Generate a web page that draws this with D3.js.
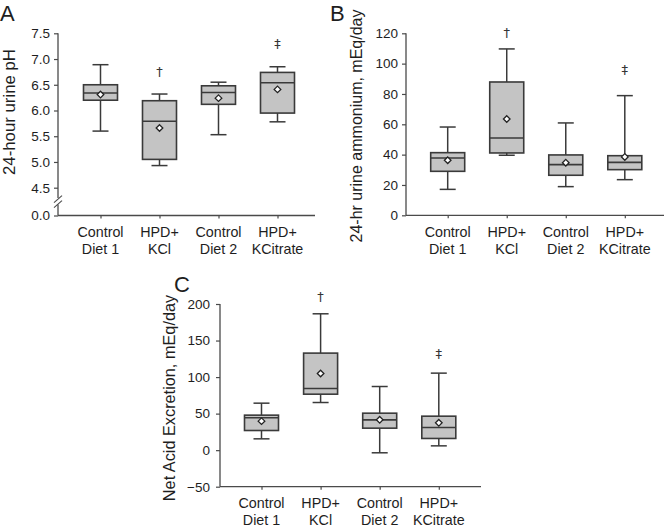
<!DOCTYPE html>
<html>
<head>
<meta charset="utf-8">
<script src="https://cdn.jsdelivr.net/npm/d3@7/dist/d3.min.js"></script>
<style>
html,body{margin:0;padding:0;background:#fff;}
svg{display:block;font-family:"Liberation Sans",Arial,sans-serif;}
</style>
</head>
<body>
<svg id="chart" width="667" height="527"></svg>
<script>
// ---- data ----
const categories = [["Control","Diet 1"],["HPD+","KCl"],["Control","Diet 2"],["HPD+","KCitrate"]];
const catKeys = ["CD1","KCl","CD2","KCit"];

// Panel A: 24-hour urine pH
const phLow    = [5.60, 4.93, 5.53, 5.78];
const phQ1     = [6.20, 5.05, 6.12, 5.95];
const phMedian = [6.34, 5.79, 6.35, 6.54];
const phQ3     = [6.50, 6.19, 6.48, 6.74];
const phHigh   = [6.89, 6.32, 6.55, 6.85];
const phMean   = [6.31, 5.66, 6.24, 6.41];
const phSig    = ["", "†", "", "‡"];
const phSigAt  = [null, 6.75, null, 7.30];
const phTicks  = [0.0, 4.5, 5.0, 5.5, 6.0, 6.5, 7.0, 7.5];

// Panel B: 24-hr urine ammonium
const nhLow    = [17.1, 39.6, 18.9, 23.5];
const nhQ1     = [29.0, 41.1, 26.4, 30.1];
const nhMedian = [37.8, 51.0, 33.4, 34.9];
const nhQ3     = [41.3, 87.9, 39.8, 39.3];
const nhHigh   = [58.2, 109.7, 60.9, 78.9];
const nhMean   = [36.3, 63.5, 34.7, 38.5];
const nhSig    = ["", "†", "", "‡"];
const nhSigAt  = [null, 120.4, null, 96];
const nhTicks  = [0, 20, 40, 60, 80, 100, 120];

// Panel C: Net acid excretion
const naeLow    = [15.5, 65.2, -3.6, 5.9];
const naeQ1     = [26.9, 76.6, 30.1, 16.0];
const naeMedian = [44.3, 84.4, 41.5, 31.0];
const naeQ3     = [47.9, 132.8, 50.6, 46.5];
const naeHigh   = [64.3, 186.6, 87.1, 105.4];
const naeMean   = [39.7, 104.9, 41.5, 37.4];
const naeSig    = ["", "†", "", "‡"];
const naeSigAt  = [null, 210, null, 132.8];
const naeTicks  = [-50, 0, 50, 100, 150, 200];

// ---- layout ----
const svg = d3.select("#chart");
const AXIS = "#4a4a4a", BOX = "#3a3a3a", FILL = "#c4c4c4", TXT = "#1e1e1e";

function rows(low,q1,med,q3,high,mean,sig,sigAt){
  return catKeys.map((k,i)=>({key:k,label:categories[i],low:low[i],q1:q1[i],med:med[i],q3:q3[i],high:high[i],mean:mean[i],sig:sig[i],sigAt:sigAt[i]}));
}

function panel(cfg){
  const g = svg.append("g");
  const y = cfg.y;
  const x = d3.scalePoint().domain(catKeys).range(cfg.xRange);
  const [ax0, ax1] = cfg.axisX;
  const yBottom = y(cfg.yDomainMin);
  const yTop = y(cfg.yDomainMax);

  // y axis
  const yAxis = d3.axisLeft(y).tickValues(cfg.ticks).tickSize(4).tickPadding(cfg.pad || 4)
    .tickFormat(cfg.fmt);
  const ya = g.append("g").attr("transform",`translate(${ax0},0)`).call(yAxis);
  ya.select(".domain").remove();
  ya.selectAll(".tick line").attr("stroke",AXIS).attr("stroke-width",1.2);
  ya.selectAll(".tick text").attr("fill",TXT).style("font-size","13.5px");

  // y axis line (with optional break)
  if(cfg.breakAt){
    const by = (y(cfg.breakAt[0]) + y(cfg.breakAt[1]))/2;
    g.append("line").attr("x1",ax0).attr("x2",ax0).attr("y1",yTop).attr("y2",by-3.5).attr("stroke",AXIS).attr("stroke-width",1.3);
    g.append("line").attr("x1",ax0).attr("x2",ax0).attr("y1",by+3).attr("y2",yBottom).attr("stroke",AXIS).attr("stroke-width",1.3);
    [-2.5,2.5].forEach(o=>{
      g.append("line").attr("x1",ax0-4).attr("x2",ax0+4).attr("y1",by+o+3.5).attr("y2",by+o-3.5)
        .attr("stroke",AXIS).attr("stroke-width",1.1);
    });
  } else {
    g.append("line").attr("x1",ax0).attr("x2",ax0).attr("y1",yTop).attr("y2",yBottom).attr("stroke",AXIS).attr("stroke-width",1.3);
  }

  // x axis
  g.append("line").attr("x1",ax0).attr("x2",ax1).attr("y1",yBottom).attr("y2",yBottom).attr("stroke",AXIS).attr("stroke-width",1.3);
  const xa = g.append("g").attr("transform",`translate(0,${yBottom})`)
    .call(d3.axisBottom(x).tickSize(3).tickFormat(""));
  xa.select(".domain").remove();
  xa.selectAll(".tick line").attr("stroke",AXIS).attr("stroke-width",1.2);

  // category labels
  cfg.data.forEach(d=>{
    const t = g.append("text").attr("text-anchor","middle").attr("fill",TXT).style("font-size","14.3px");
    t.append("tspan").attr("x",x(d.key)).attr("y",yBottom+21.5).text(d.label[0]);
    t.append("tspan").attr("x",x(d.key)).attr("y",yBottom+38.3).text(d.label[1]);
  });

  // boxes
  const bw = 34, cw = 8;
  const b = g.selectAll(".bx").data(cfg.data).join("g").attr("class","bx");
  b.append("line").attr("x1",d=>x(d.key)).attr("x2",d=>x(d.key)).attr("y1",d=>y(d.high)).attr("y2",d=>y(d.q3)).attr("stroke",BOX).attr("stroke-width",1.5);
  b.append("line").attr("x1",d=>x(d.key)).attr("x2",d=>x(d.key)).attr("y1",d=>y(d.q1)).attr("y2",d=>y(d.low)).attr("stroke",BOX).attr("stroke-width",1.5);
  b.append("line").attr("x1",d=>x(d.key)-cw).attr("x2",d=>x(d.key)+cw).attr("y1",d=>y(d.high)).attr("y2",d=>y(d.high)).attr("stroke",BOX).attr("stroke-width",1.5);
  b.append("line").attr("x1",d=>x(d.key)-cw).attr("x2",d=>x(d.key)+cw).attr("y1",d=>y(d.low)).attr("y2",d=>y(d.low)).attr("stroke",BOX).attr("stroke-width",1.5);
  b.append("rect").attr("x",d=>x(d.key)-bw/2).attr("width",bw)
    .attr("y",d=>y(d.q3)).attr("height",d=>y(d.q1)-y(d.q3))
    .attr("fill",FILL).attr("stroke",BOX).attr("stroke-width",1.6);
  b.append("line").attr("x1",d=>x(d.key)-bw/2).attr("x2",d=>x(d.key)+bw/2).attr("y1",d=>y(d.med)).attr("y2",d=>y(d.med)).attr("stroke",BOX).attr("stroke-width",1.6);
  b.append("path").attr("d",d=>{const cx=x(d.key), cy=y(d.mean), r=3.3; return `M${cx},${cy-r}L${cx+r},${cy}L${cx},${cy+r}L${cx-r},${cy}Z`;})
    .attr("fill","#fff").attr("stroke","#222").attr("stroke-width",1.3);
  b.filter(d=>d.sig).append("text").attr("x",d=>x(d.key)).attr("y",d=>y(d.sigAt)).attr("dy","0.35em")
    .attr("text-anchor","middle").attr("fill","#333").style("font-size","13px")
    .style("font-family","'DejaVu Sans',sans-serif").style("opacity",0.99).text(d=>d.sig);

  // y title
  g.append("text").attr("transform",`translate(${cfg.titleX},${cfg.titleY}) rotate(-90)`)
    .attr("text-anchor","middle").attr("fill",TXT).style("font-size",cfg.titleSize).text(cfg.title);
  // panel letter
  g.append("text").attr("x",cfg.letterXY[0]).attr("y",cfg.letterXY[1]).attr("fill",TXT).style("font-size","22px").text(cfg.letter);
}

// Panel A (broken axis)
panel({
  data: rows(phLow,phQ1,phMedian,phQ3,phHigh,phMean,phSig,phSigAt),
  y: d3.scaleLinear().domain([0,4.5,7.5]).range([215.5,187.7,33.3]),
  yDomainMin: 0, yDomainMax: 7.5, breakAt:[0,4.5],
  ticks: phTicks, fmt: d3.format(".1f"),
  axisX:[58,315], xRange:[100.5,277.5],
  title:"24-hour urine pH", titleX:15, titleY:112, titleSize:"16.8px",
  letter:"A", letterXY:[0,20.5]
});

// Panel B
panel({
  data: rows(nhLow,nhQ1,nhMedian,nhQ3,nhHigh,nhMean,nhSig,nhSigAt),
  y: d3.scaleLinear().domain([0,120]).range([215.3,33.3]),
  yDomainMin: 0, yDomainMax: 120,
  ticks: nhTicks, fmt: d3.format("d"),
  axisX:[406,664], xRange:[447.7,624.8],
  title:"24-hr urine ammonium, mEq/day", titleX:362, titleY:126, titleSize:"16px",
  letter:"B", letterXY:[330,20.5]
});

// Panel C
panel({
  data: rows(naeLow,naeQ1,naeMedian,naeQ3,naeHigh,naeMean,naeSig,naeSigAt),
  y: d3.scaleLinear().domain([-50,200]).range([486.7,304]),
  yDomainMin: -50, yDomainMax: 200, pad: 6,
  ticks: naeTicks, fmt: d3.format("d"),
  axisX:[220,481], xRange:[261.5,438.8],
  title:"Net Acid Excretion, mEq/day", titleX:174.5, titleY:398, titleSize:"16.3px",
  letter:"C", letterXY:[174,292]
});
</script>
</body>
</html>
